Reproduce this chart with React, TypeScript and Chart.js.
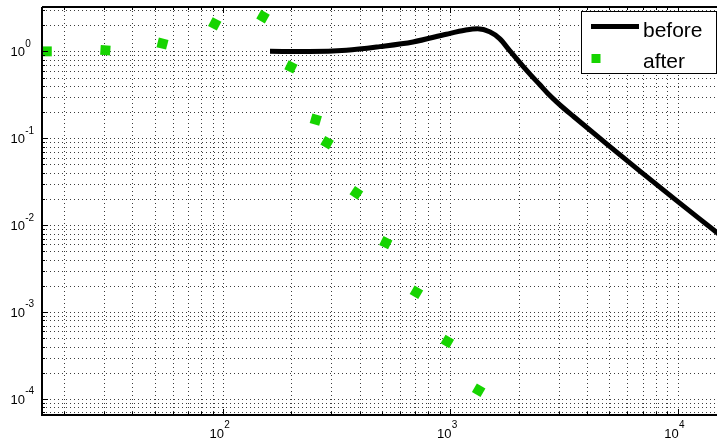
import React, { useEffect, useRef } from "react";
import { Chart, registerables } from "chart.js";

Chart.register(...registerables);

// ---- data ----
const BEFORE_FREQ = [161, 240, 349, 489, 685, 960, 1156, 1318, 1489, 1647, 1823, 2079, 2254, 2470, 2677, 2924, 3180, 3459, 4850, 6795, 9517, 14810, 16220];
const BEFORE_MAG = [1.0, 0.995, 1.03, 1.134, 1.283, 1.575, 1.749, 1.82, 1.68, 1.4, 1.02, 0.68, 0.537, 0.415, 0.3304, 0.2644, 0.2172, 0.1807, 0.0867, 0.0421, 0.02074, 0.00828, 0.00685];

const AFTER_FREQ = [16.8, 30.4, 54.2, 92.0, 150, 199, 256, 287, 386, 520, 709, 970, 1332];
const AFTER_MAG = [1.0, 1.03, 1.23, 2.07, 2.51, 0.662, 0.164, 0.089, 0.0235, 0.00628, 0.00169, 0.000459, 0.000126];

const X_TICK_EXPS = [2, 3, 4];
const Y_TICK_EXPS = [0, -1, -2, -3, -4];
const LEGEND_LABELS = ["before", "after"];

const X_MIN = 16;
const X_MAX = 16300;
const Y_MIN = 6.54e-5;
const Y_MAX = 3.24;

// marker rotation (style only)
const MARKER_ROT = [0, 4, 14, 28, 30, 26, 16, 30, 34, 26, 30, 30, 30];

const GREEN = "rgb(22,212,0)";
const FONT = "'Liberation Sans', Arial, Helvetica, sans-serif";
const CANVAS_W = 736;
const CANVAS_H = 448;

function gridValues(min: number, max: number) {
  const out: { v: number; major: boolean }[] = [];
  for (let e = Math.floor(Math.log10(min)); e <= Math.ceil(Math.log10(max)); e++) {
    for (let m = 1; m <= 9; m++) {
      const v = m * Math.pow(10, e);
      if (v >= min && v <= max) out.push({ v, major: m === 1 });
    }
  }
  return out;
}

const matlabPlugin = {
  id: "matlabLook",
  beforeDatasetsDraw(chart: any) {
    const { ctx, chartArea: a, scales } = chart;
    const xs = scales.x;
    const ys = scales.y;
    ctx.save();
    ctx.beginPath();
    ctx.rect(a.left, a.top, a.right - a.left, a.bottom - a.top);
    ctx.clip();
    ctx.strokeStyle = "#3c3c3c";
    ctx.lineWidth = 1;
    ctx.setLineDash([1, 3]);
    for (const g of gridValues(X_MIN, X_MAX)) {
      const px = Math.round(xs.getPixelForValue(g.v)) + 0.5;
      ctx.beginPath();
      ctx.moveTo(px, a.top);
      ctx.lineTo(px, a.bottom);
      ctx.stroke();
    }
    for (const g of gridValues(Y_MIN, Y_MAX)) {
      const py = Math.round(ys.getPixelForValue(g.v)) + 0.5;
      ctx.beginPath();
      ctx.moveTo(a.left, py);
      ctx.lineTo(a.right, py);
      ctx.stroke();
    }
    ctx.restore();
  },
  afterDatasetsDraw(chart: any) {
    const { ctx, chartArea: a, scales } = chart;
    const xs = scales.x;
    const ys = scales.y;
    ctx.save();
    ctx.setLineDash([]);
    // tick marks (inside)
    ctx.strokeStyle = "#000";
    ctx.lineWidth = 1;
    for (const g of gridValues(X_MIN, X_MAX)) {
      const px = Math.round(xs.getPixelForValue(g.v)) + 0.5;
      const len = g.major ? 6 : 3;
      ctx.beginPath();
      ctx.moveTo(px, a.bottom);
      ctx.lineTo(px, a.bottom - len);
      ctx.moveTo(px, a.top);
      ctx.lineTo(px, a.top + len);
      ctx.stroke();
    }
    for (const g of gridValues(Y_MIN, Y_MAX)) {
      const py = Math.round(ys.getPixelForValue(g.v)) + 0.5;
      const len = g.major ? 6 : 3;
      ctx.beginPath();
      ctx.moveTo(a.left, py);
      ctx.lineTo(a.left + len, py);
      ctx.stroke();
    }
    // frame
    ctx.lineWidth = 2;
    ctx.beginPath();
    ctx.moveTo(a.left, a.top);
    ctx.lineTo(a.left, a.bottom);
    ctx.lineTo(a.right, a.bottom);
    ctx.moveTo(a.left, a.top);
    ctx.lineTo(a.right, a.top);
    ctx.stroke();

    // tick labels
    ctx.fillStyle = "#000";
    ctx.textBaseline = "alphabetic";
    for (const e of X_TICK_EXPS) {
      const px = xs.getPixelForValue(Math.pow(10, e));
      ctx.font = `13px ${FONT}`;
      ctx.textAlign = "right";
      ctx.fillText("10", px + 1, a.bottom + 22.7);
      ctx.font = `10px ${FONT}`;
      ctx.textAlign = "left";
      ctx.fillText(String(e), px + 1.3, a.bottom + 13.3);
    }
    for (const e of Y_TICK_EXPS) {
      const py = ys.getPixelForValue(Math.pow(10, e));
      ctx.font = `13px ${FONT}`;
      ctx.textAlign = "right";
      ctx.fillText("10", a.left - 17, py + 4.8);
      ctx.font = `10px ${FONT}`;
      ctx.textAlign = "left";
      ctx.fillText(String(e), a.left - 16.8, py - 4.6);
    }

    // legend
    const lx = 581.5;
    const ly = 11.5;
    const lw = 135;
    const lh = 62;
    ctx.fillStyle = "#fff";
    ctx.fillRect(lx, ly, lw, lh);
    ctx.strokeStyle = "#000";
    ctx.lineWidth = 1;
    ctx.strokeRect(lx, ly, lw, lh);
    ctx.lineWidth = 5;
    ctx.lineCap = "butt";
    ctx.beginPath();
    ctx.moveTo(591, 26.5);
    ctx.lineTo(639, 26.5);
    ctx.stroke();
    ctx.fillStyle = GREEN;
    ctx.fillRect(591.5, 54, 9, 9);
    ctx.fillStyle = "#000";
    ctx.font = `21px ${FONT}`;
    ctx.textAlign = "left";
    ctx.fillText(LEGEND_LABELS[0], 643, 36.5);
    ctx.fillText(LEGEND_LABELS[1], 643, 68);
    ctx.restore();
  },
};

export default function App() {
  const ref = useRef<HTMLCanvasElement | null>(null);
  useEffect(() => {
    document.documentElement.style.overflow = "hidden";
    document.body.style.overflow = "hidden";
    const canvas = ref.current;
    if (!canvas) return;
    const chart = new Chart(canvas, {
      type: "scatter",
      data: {
        datasets: [
          {
            label: LEGEND_LABELS[0],
            data: BEFORE_FREQ.map((x, i) => ({ x, y: BEFORE_MAG[i] })),
            showLine: true,
            borderColor: "#000",
            borderWidth: 5,
            pointRadius: 0,
            cubicInterpolationMode: "monotone",
            borderJoinStyle: "round",
            borderCapStyle: "butt",
            fill: false,
          } as any,
          {
            label: LEGEND_LABELS[1],
            data: AFTER_FREQ.map((x, i) => ({ x, y: AFTER_MAG[i] })),
            showLine: false,
            pointStyle: "rect",
            pointRadius: 7,
            pointRotation: MARKER_ROT,
            backgroundColor: GREEN,
            borderColor: GREEN,
            borderWidth: 0,
          } as any,
        ],
      },
      options: {
        responsive: false,
        animation: false,
        devicePixelRatio: 1,
        events: [],
        layout: {
          padding: { left: 42, top: 3, right: CANVAS_W - 726, bottom: CANVAS_H - 415 },
        },
        plugins: {
          legend: { display: false },
          tooltip: { enabled: false },
        },
        scales: {
          x: { type: "logarithmic", min: X_MIN, max: X_MAX, display: false },
          y: { type: "logarithmic", min: Y_MIN, max: Y_MAX, display: false },
        },
      },
      plugins: [matlabPlugin],
    });
    return () => chart.destroy();
  }, []);
  return (
    <div style={{ position: "fixed", left: 0, top: 0, width: CANVAS_W, height: CANVAS_H, background: "#fff" }}>
      <canvas ref={ref} width={CANVAS_W} height={CANVAS_H} style={{ display: "block" }} />
    </div>
  );
}
